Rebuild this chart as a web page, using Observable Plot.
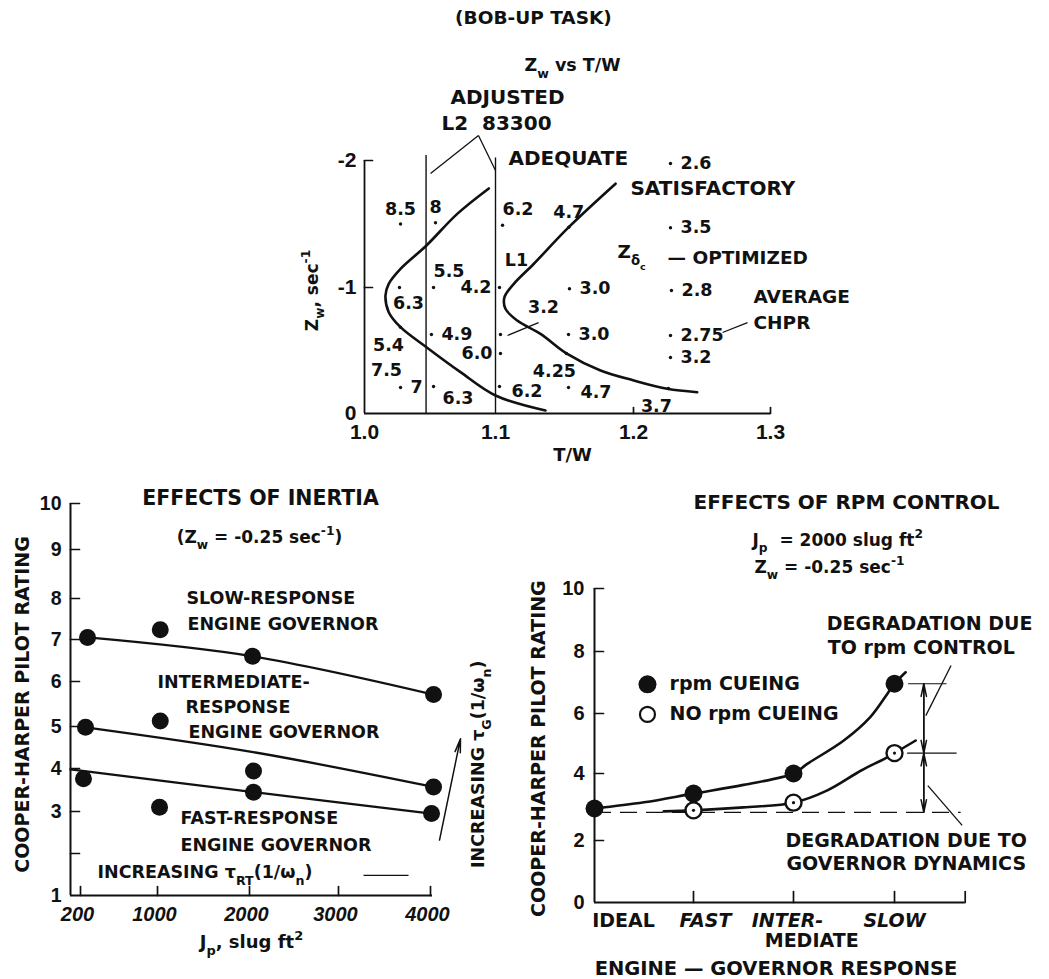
<!DOCTYPE html>
<html><head><meta charset="utf-8">
<script src="https://cdn.jsdelivr.net/npm/d3@7"></script>
<script src="https://cdn.jsdelivr.net/npm/@observablehq/plot@0.6"></script>
<style>
body{margin:0;background:#fff;}
#root{position:relative;width:1049px;height:979px;overflow:hidden;background:#fff;}
</style></head><body><div id="root"></div>
<script>
// ================= DATA =================
// --- Top panel: Zw vs T/W (bob-up task) ---
const twTicks = [1.0, 1.1, 1.2, 1.3];
const twTickLabels = ["1.0", "1.1", "1.2", "1.3"];
const zwTicks = [0, -1, -2];
const zwTickLabels = ["0", "-1", "-2"];
const twAxis = [1.0, 1.3];
const zwAxis = [0, -2];
const adequateBoundary = [
  {tw:1.0949,zw:-1.78},{tw:1.0708,zw:-1.58},{tw:1.0473,zw:-1.331},{tw:1.0275,zw:-1.147},
  {tw:1.0185,zw:-1.029},{tw:1.016,zw:-0.937},{tw:1.0185,zw:-0.804},{tw:1.0275,zw:-0.685},
  {tw:1.0473,zw:-0.526},{tw:1.0733,zw:-0.328},{tw:1.1,zw:-0.143},{tw:1.1362,zw:-0.024}
];
const satisfactoryBoundary = [
  {tw:1.187,zw:-1.817},{tw:1.1531,zw:-1.475},{tw:1.1278,zw:-1.187},{tw:1.1133,zw:-1.029},
  {tw:1.1065,zw:-0.923},{tw:1.1072,zw:-0.831},{tw:1.1157,zw:-0.738},{tw:1.1326,zw:-0.632},
  {tw:1.152,zw:-0.473},{tw:1.1761,zw:-0.341},{tw:1.2002,zw:-0.262},{tw:1.2246,zw:-0.196},
  {tw:1.2465,zw:-0.169}
];
const designLines = [{tw:1.047, top:-2.04}, {tw:1.1, top:-2.02}];
const ratings = [
  {tw:1.0275, zw:-1.50, hqr:"8.5", side:"n"},
  {tw:1.0542, zw:-1.51, hqr:"8", side:"n"},
  {tw:1.1051, zw:-1.49, hqr:"6.2", side:"ne"},
  {tw:1.1531, zw:-1.475, hqr:"4.7", side:"n"},
  {tw:1.227, zw:-1.976, hqr:"2.6", side:"e"},
  {tw:1.227, zw:-1.47, hqr:"3.5", side:"e"},
  {tw:1.0527, zw:-1.0, hqr:"5.5", side:"ne"},
  {tw:1.0267, zw:-1.0, hqr:"6.3", side:"s"},
  {tw:1.1029, zw:-1.0, hqr:"4.2", side:"w"},
  {tw:1.1536, zw:-0.99, hqr:"3.0", side:"e"},
  {tw:1.2277, zw:-0.976, hqr:"2.8", side:"e"},
  {tw:1.1036, zw:-0.627, hqr:"3.2", side:"lead"},
  {tw:1.0511, zw:-0.627, hqr:"4.9", side:"e"},
  {tw:1.1529, zw:-0.627, hqr:"3.0", side:"e"},
  {tw:1.227, zw:-0.619, hqr:"2.75", side:"e"},
  {tw:1.0275, zw:-0.685, hqr:"5.4", side:"sw"},
  {tw:1.1036, zw:-0.476, hqr:"6.0", side:"w"},
  {tw:1.227, zw:-0.444, hqr:"3.2", side:"e"},
  {tw:1.1514, zw:-0.476, hqr:"4.25", side:"sw"},
  {tw:1.0275, zw:-0.206, hqr:"7", side:"e"},
  {tw:1.0527, zw:-0.214, hqr:"6.3", side:"sse"},
  {tw:1.1029, zw:-0.214, hqr:"6.2", side:"se"},
  {tw:1.1529, zw:-0.206, hqr:"4.7", side:"se"},
  {tw:1.2255, zw:-0.198, hqr:"3.7", side:"sw"}
];

// --- Bottom-left: effects of inertia ---
const jpTicks = [200, 1000, 2000, 3000, 4000];
const chprTicksLeft = [2, 3, 4, 5, 6, 7, 8, 9, 10];
const chprLabelsLeft = [1, 3, 4, 5, 6, 7, 8, 9, 10];
const jpAxis = [96, 4022];
const chprAxisLeft = [1, 10];
const slowGovernor = [{jp:273,chpr:7.05},{jp:1030,chpr:7.24},{jp:2034,chpr:6.6},{jp:4033,chpr:5.71}];
const intermediateGovernor = [{jp:252,chpr:4.98},{jp:1030,chpr:5.12},{jp:2045,chpr:3.94},{jp:4033,chpr:3.57}];
const fastGovernor = [{jp:231,chpr:3.76},{jp:1022,chpr:3.1},{jp:2045,chpr:3.45},{jp:4011,chpr:2.95}];
const slowFair = [{jp:273,chpr:7.05},{jp:2034,chpr:6.6},{jp:4033,chpr:5.71}];
const intermediateFair = [{jp:252,chpr:4.98},{jp:2040,chpr:4.39},{jp:4033,chpr:3.57}];
const fastFair = [{jp:96,chpr:3.98},{jp:2045,chpr:3.45},{jp:4011,chpr:2.95}];

// --- Bottom-right: effects of rpm control ---
const respTicks = [1, 2, 3, 3.7];
const chprTicksRight = [2, 4, 6, 8, 10];
const chprLabelsRight = [0, 2, 4, 6, 8, 10];
const respAxis = [0, 3.7];
const chprAxisRight = [0, 10];
const rpmCueing = [{resp:0,chpr:2.955},{resp:1,chpr:3.4},{resp:2,chpr:4.0},{resp:3,chpr:6.96}];
const noRpmCueing = [{resp:1,chpr:2.9},{resp:2,chpr:3.13},{resp:3,chpr:4.68}];
const rpmCueingCurve = [{resp:0,chpr:2.955},{resp:0.5,chpr:3.14},{resp:1,chpr:3.4},{resp:1.5,chpr:3.66},{resp:2,chpr:4.0},
  {resp:2.136,chpr:4.32},{resp:2.498,chpr:5.1},{resp:2.76,chpr:5.88},{resp:2.93,chpr:6.64},{resp:3,chpr:6.96},{resp:3.11,chpr:7.33}];
const noRpmCueingCurve = [{resp:0.7,chpr:2.87},{resp:1,chpr:2.9},{resp:1.5,chpr:2.99},{resp:2,chpr:3.13},
  {resp:2.33,chpr:3.49},{resp:2.67,chpr:4.1},{resp:2.9,chpr:4.49},{resp:3,chpr:4.68},{resp:3.21,chpr:5.1}];
const idealLevel = [{chpr:2.84, from:0, to:3.66}];
const slowLevels = [{chpr:6.96, from:3.14, to:3.52}, {chpr:4.68, from:3.13, to:3.62}];
const degradations = [{resp:3.29, hi:6.96, lo:4.68}, {resp:3.29, hi:4.68, lo:2.84}];

// ================= ANNOTATIONS (data coordinates) =================
const topTitle = [{text:"(BOB-UP TASK)", tw:1.1275, zw:-3.118}];
const topSubtitle = [{text:"Z_{w} vs T/W", tw:1.1558, zw:-2.748}];
const topBigMid = [{text:"ADJUSTED", tw:1.1087, zw:-2.496}, {text:"L2  83300", tw:1.1007, zw:-2.291}];
const topBigStart = [{text:"ADEQUATE", tw:1.1094, zw:-2.016}, {text:"SATISFACTORY", tw:1.1978, zw:-1.78}];
const topNotes = [{text:"Z_{δ_{c}}", tw:1.1884, zw:-1.276}, {text:"— OPTIMIZED", tw:1.2248, zw:-1.228},
  {text:"AVERAGE", tw:1.2876, zw:-0.921}, {text:"CHPR", tw:1.2876, zw:-0.714}];
const topSmall = [{text:"L1", tw:1.1152, zw:-1.213}, {text:"7.5", tw:1.0168, zw:-0.341}];
const topLeaders = [
  {tw1:1.087, zw1:-2.197, tw2:1.0504, zw2:-1.898}, {tw1:1.087, zw1:-2.197, tw2:1.1, zw2:-1.921},
  {tw1:1.265, zw1:-0.643, tw2:1.2832, zw2:-0.722}, {tw1:1.1087, zw1:-0.619, tw2:1.1312, zw2:-0.722}
];
const topXTitle = [{text:"T/W", tw:1.1558, zw:0.333}];
const topYTitle = [{text:"Z_{w}, sec^{-1}", tw:0.9603, zw:-0.976}];

const leftTitle = [{text:"EFFECTS OF INERTIA", jp:2124, chpr:10.11}];
const leftSubtitle = [{text:"(Z_{w} = -0.25 sec^{-1})", jp:2112, chpr:9.26}];
const leftNotes = [
  {text:"SLOW-RESPONSE", jp:1315, chpr:8.0}, {text:"ENGINE GOVERNOR", jp:1326, chpr:7.37},
  {text:"INTERMEDIATE-", jp:1000, chpr:5.98}, {text:"RESPONSE", jp:1304, chpr:5.42},
  {text:"ENGINE GOVERNOR", jp:1337, chpr:4.86}, {text:"FAST-RESPONSE", jp:1250, chpr:2.83},
  {text:"ENGINE GOVERNOR", jp:1250, chpr:2.19}, {text:"INCREASING τ_{RT}(1/ω_{n})", jp:377, chpr:1.55}
];
const leftLeader = [{jp1:3272, jp2:3761, chpr:1.48}];
const leftArrow = [{jp1:4098, c1:2.32, jp2:4326, c2:4.71}];
const leftRotated = [{text:"INCREASING τ_{G}(1/ω_{n})", jp:4522, chpr:4.1}];
const leftYTitle = [{text:"COOPER-HARPER PILOT RATING", jp:-403, chpr:5.49}];
const leftXTitle = [{text:"J_{p}, slug ft^{2}", jp:2022, chpr:-0.11}];

const rightTitle = [{text:"EFFECTS OF RPM CONTROL", resp:2.525, chpr:12.74}];
const rightConditions = [{text:"J_{p}  = 2000 slug ft^{2}", resp:1.59, chpr:11.53}, {text:"Z_{w} = -0.25 sec^{-1}", resp:1.61, chpr:10.67}];
const rightNotes = [
  {text:"DEGRADATION DUE", resp:2.33, chpr:8.89}, {text:"TO rpm CONTROL", resp:2.34, chpr:8.1},
  {text:"DEGRADATION DUE TO", resp:1.92, chpr:2.0}, {text:"GOVERNOR DYNAMICS", resp:1.93, chpr:1.26},
  {text:"rpm CUEING", resp:0.758, chpr:6.94}, {text:"NO rpm CUEING", resp:0.758, chpr:5.97}
];
const legendFilled = [{resp:0.535, chpr:6.94}];
const legendOpen = [{resp:0.535, chpr:5.97}];
const rightLeaders = [{r1:3.56, c1:7.55, r2:3.31, c2:5.93}, {r1:3.33, c1:3.64, r2:3.67, c2:2.45}];
const respUpright = [{text:"IDEAL", resp:0.293, chpr:-0.58}, {text:"MEDIATE", resp:2.18, chpr:-1.23}];
const respItalic = [{text:"FAST", resp:1.12, chpr:-0.58}, {text:"INTER-", resp:1.94, chpr:-0.58}, {text:"SLOW", resp:3.0, chpr:-0.58}];
const rightXTitle = [{text:"ENGINE — GOVERNOR RESPONSE", resp:1.825, chpr:-2.13}];
const rightYTitle = [{text:"COOPER-HARPER PILOT RATING", resp:-0.566, chpr:4.83}];

// ================= HELPERS =================
const ink = "#111";
const TXT = "'DejaVu Sans', 'Liberation Sans', sans-serif";
const NUM = "'Liberation Sans', Arial, sans-serif";
const tickShape = {draw(context, l) { context.moveTo(0, 0); context.lineTo(0, -l); }};
const ticks = (data, o) => Plot.vector(data, {anchor: "start", shape: tickShape, stroke: ink, strokeWidth: 1.7, ...o});
const words = (data, o) => Plot.text(data, {text: "text", fill: ink, fontFamily: TXT, fontWeight: "bold", ...o});
const nums = (data, o) => Plot.text(data, {fill: ink, fontFamily: NUM, fontWeight: "bold", ...o});
const baseStyle = {background: "transparent", overflow: "visible", color: ink};

function place(svg, left, top) {
  svg.style.position = "absolute";
  svg.style.left = left + "px";
  svg.style.top = top + "px";
  document.getElementById("root").appendChild(svg);
}

// converts _{...} and ^{...} into sub/superscript tspans (real text)
function richText(svg) {
  const NS = "http://www.w3.org/2000/svg";
  svg.querySelectorAll("text").forEach(t => {
    const s = t.textContent;
    if (!/[_^]\{/.test(s)) return;
    const base = parseFloat(getComputedStyle(t).fontSize) || 16;
    t.textContent = "";
    const stack = [{shift: 0, size: base}];
    let cur = 0, buf = "";
    const flush = () => {
      if (!buf) return;
      const st = stack[stack.length - 1];
      const ts = document.createElementNS(NS, "tspan");
      ts.setAttribute("font-size", st.size.toFixed(2));
      ts.setAttribute("dy", (st.shift - cur).toFixed(2));
      cur = st.shift;
      ts.textContent = buf;
      t.appendChild(ts);
      buf = "";
    };
    for (let i = 0; i < s.length; i++) {
      const c = s[i];
      if ((c === "_" || c === "^") && s[i + 1] === "{") {
        flush();
        const top = stack[stack.length - 1];
        stack.push(c === "_" ? {shift: top.shift + top.size * 0.38, size: top.size * 0.72}
                             : {shift: top.shift - top.size * 0.45, size: top.size * 0.72});
        i++;
      } else if (c === "}" && stack.length > 1) { flush(); stack.pop(); }
      else buf += c;
    }
    flush();
  });
}

// ================= TOP PANEL =================
const sideOffsets = {n:[0,-15,"middle"], ne:[0,-16,"start"], e:[10,0,"start"], w:[-8,0,"end"], s:[9,16,"middle"],
  sw:[-12,18,"middle"], se:[12,5,"start"], sse:[9,12,"start"], lead:[43,-27,"middle"]};

const topPlot = Plot.plot({
  width: 1049, height: 470, margin: 0,
  x: {type: "linear", domain: twTicks, range: [364, 495, 633, 770], axis: null},
  y: {type: "linear", domain: [-2, -1, 0], range: [160, 287, 413], axis: null},
  style: baseStyle,
  marks: [
    Plot.ruleX(designLines, {x: "tw", y1: () => 0, y2: "top", stroke: ink, strokeWidth: 1.4}),
    Plot.ruleX([twAxis[0]], {y1: zwAxis[0], y2: zwAxis[1], stroke: ink, strokeWidth: 1.8}),
    Plot.ruleY([zwAxis[0]], {x1: twAxis[0], x2: twAxis[1], stroke: ink, strokeWidth: 1.8}),
    ticks(zwTicks.slice(1), {x: () => twAxis[0], y: d => d, length: 8, rotate: 90}),
    ticks(twTicks.slice(2), {x: d => d, y: () => zwAxis[0], length: 6, rotate: 0}),
    nums(zwTicks, {x: () => twAxis[0], y: d => d, text: (d, i) => zwTickLabels[i], dx: -8, textAnchor: "end", fontSize: 21}),
    nums(twTicks, {x: d => d, y: () => zwAxis[0], text: (d, i) => twTickLabels[i], dy: 19, fontSize: 21}),
    Plot.line(adequateBoundary, {x: "tw", y: "zw", curve: "catmull-rom", stroke: ink, strokeWidth: 2.6}),
    Plot.line(satisfactoryBoundary, {x: "tw", y: "zw", curve: "catmull-rom", stroke: ink, strokeWidth: 2.6}),
    Plot.link(topLeaders, {x1: "tw1", y1: "zw1", x2: "tw2", y2: "zw2", stroke: ink, strokeWidth: 1.3}),
    Plot.dot(ratings, {x: "tw", y: "zw", r: 1.7, fill: ink}),
    ...Object.entries(sideOffsets).map(([k, [dx, dy, a]]) =>
      Plot.text(ratings.filter(d => d.side === k), {x: "tw", y: "zw", text: "hqr", dx, dy, textAnchor: a,
        fill: ink, fontFamily: TXT, fontWeight: "bold", fontSize: 17.5})),
    words(topTitle, {x: "tw", y: "zw", fontSize: 18.5}),
    words(topSubtitle, {x: "tw", y: "zw", fontSize: 17.5}),
    words(topBigMid, {x: "tw", y: "zw", fontSize: 20}),
    words(topBigStart, {x: "tw", y: "zw", fontSize: 20, textAnchor: "start"}),
    words(topNotes, {x: "tw", y: "zw", fontSize: 18.5, textAnchor: "start"}),
    words(topSmall, {x: "tw", y: "zw", fontSize: 17.5}),
    words(topXTitle, {x: "tw", y: "zw", fontSize: 18}),
    words(topYTitle, {x: "tw", y: "zw", fontSize: 17, rotate: -90})
  ]
});

// ================= BOTTOM-LEFT PANEL =================
const leftPlot = Plot.plot({
  width: 500, height: 519, margin: 0,
  x: {type: "linear", domain: jpTicks, range: [80, 157, 249, 338, 430], axis: null},
  y: {type: "linear", domain: [1,2,3,4,5,6,7,8,9,10], range: [435,393,351,308,266,221,179,138,89,43], axis: null},
  style: baseStyle,
  marks: [
    Plot.ruleX([jpAxis[0]], {y1: chprAxisLeft[0], y2: chprAxisLeft[1], stroke: ink, strokeWidth: 2}),
    Plot.ruleY([chprAxisLeft[0]], {x1: jpAxis[0], x2: jpAxis[1], stroke: ink, strokeWidth: 2}),
    ticks(chprTicksLeft, {x: () => jpAxis[0], y: d => d, length: 9, rotate: 90}),
    ticks(jpTicks, {x: d => d, y: () => chprAxisLeft[0], length: 9, rotate: 0}),
    nums(chprLabelsLeft, {x: () => jpAxis[0], y: d => d, text: d => String(d), dx: -9, textAnchor: "end", fontSize: 19.5}),
    nums(jpTicks, {x: d => d, y: () => chprAxisLeft[0], text: d => String(d), dx: -3, dy: 19, fontSize: 20, fontStyle: "italic"}),
    Plot.line(slowFair, {x: "jp", y: "chpr", curve: "catmull-rom", stroke: ink, strokeWidth: 2.3}),
    Plot.line(intermediateFair, {x: "jp", y: "chpr", curve: "catmull-rom", stroke: ink, strokeWidth: 2.3}),
    Plot.line(fastFair, {x: "jp", y: "chpr", curve: "catmull-rom", stroke: ink, strokeWidth: 2.3}),
    Plot.dot(slowGovernor, {x: "jp", y: "chpr", r: 8.5, fill: ink}),
    Plot.dot(intermediateGovernor, {x: "jp", y: "chpr", r: 8.5, fill: ink}),
    Plot.dot(fastGovernor, {x: "jp", y: "chpr", r: 8.5, fill: ink}),
    Plot.link(leftLeader, {x1: "jp1", x2: "jp2", y1: "chpr", y2: "chpr", stroke: ink, strokeWidth: 1.3}),
    Plot.arrow(leftArrow, {x1: "jp1", y1: "c1", x2: "jp2", y2: "c2", stroke: ink, strokeWidth: 1.5, headLength: 14, headAngle: 22}),
    words(leftTitle, {x: "jp", y: "chpr", fontSize: 20.5}),
    words(leftSubtitle, {x: "jp", y: "chpr", fontSize: 17}),
    words(leftNotes, {x: "jp", y: "chpr", fontSize: 17.5, textAnchor: "start"}),
    words(leftRotated, {x: "jp", y: "chpr", fontSize: 17.5, rotate: -90}),
    words(leftYTitle, {x: "jp", y: "chpr", fontSize: 19, rotate: -90}),
    words(leftXTitle, {x: "jp", y: "chpr", fontSize: 18})
  ]
});

// ================= BOTTOM-RIGHT PANEL =================
const rightPlot = Plot.plot({
  width: 549, height: 519, margin: 0,
  x: {type: "linear", domain: [0, 1, 2, 3], range: [94, 193, 293, 394], axis: null},
  y: {type: "linear", domain: [0, 2, 4, 6, 8, 10], range: [442, 380, 313, 253, 191, 128], axis: null},
  style: baseStyle,
  marks: [
    Plot.ruleY(idealLevel, {y: "chpr", x1: "from", x2: "to", stroke: ink, strokeWidth: 1.4, strokeDasharray: "17,9"}),
    Plot.ruleY(slowLevels, {y: "chpr", x1: "from", x2: "to", stroke: ink, strokeWidth: 1.2}),
    Plot.ruleX([respAxis[0]], {y1: chprAxisRight[0], y2: chprAxisRight[1], stroke: ink, strokeWidth: 2}),
    Plot.ruleY([chprAxisRight[0]], {x1: respAxis[0], x2: respAxis[1], stroke: ink, strokeWidth: 2}),
    ticks(chprTicksRight, {x: () => respAxis[0], y: d => d, length: 9, rotate: 90}),
    ticks(respTicks, {x: d => d, y: () => chprAxisRight[0], length: 11, rotate: 0}),
    nums(chprLabelsRight, {x: () => respAxis[0], y: d => d, text: d => String(d), dx: -10, textAnchor: "end", fontSize: 20}),
    Plot.arrow(degradations, {x1: "resp", x2: "resp", y1: "hi", y2: "lo", stroke: ink, strokeWidth: 1.5, headLength: 13, headAngle: 24}),
    Plot.arrow(degradations, {x1: "resp", x2: "resp", y1: "lo", y2: "hi", stroke: ink, strokeWidth: 1.5, headLength: 13, headAngle: 24}),
    Plot.link(rightLeaders, {x1: "r1", y1: "c1", x2: "r2", y2: "c2", stroke: ink, strokeWidth: 1.3}),
    Plot.line(rpmCueingCurve, {x: "resp", y: "chpr", curve: "catmull-rom", stroke: ink, strokeWidth: 2.6}),
    Plot.line(noRpmCueingCurve, {x: "resp", y: "chpr", curve: "catmull-rom", stroke: ink, strokeWidth: 2.6}),
    Plot.dot(rpmCueing, {x: "resp", y: "chpr", r: 9, fill: ink}),
    Plot.dot(noRpmCueing, {x: "resp", y: "chpr", r: 8, fill: "white", stroke: ink, strokeWidth: 2.4}),
    Plot.dot(noRpmCueing, {x: "resp", y: "chpr", r: 1.6, fill: ink}),
    Plot.dot(legendFilled, {x: "resp", y: "chpr", r: 9, fill: ink}),
    Plot.dot(legendOpen, {x: "resp", y: "chpr", r: 7.5, fill: "white", stroke: ink, strokeWidth: 2.2}),
    words(rightTitle, {x: "resp", y: "chpr", fontSize: 20}),
    words(rightConditions, {x: "resp", y: "chpr", fontSize: 17, textAnchor: "start"}),
    words(rightNotes, {x: "resp", y: "chpr", fontSize: 19, textAnchor: "start"}),
    words(respUpright, {x: "resp", y: "chpr", fontSize: 19}),
    words(respItalic, {x: "resp", y: "chpr", fontSize: 19, fontStyle: "italic"}),
    words(rightXTitle, {x: "resp", y: "chpr", fontSize: 19.5}),
    words(rightYTitle, {x: "resp", y: "chpr", fontSize: 19, rotate: -90})
  ]
});

place(topPlot, 0, 0);
place(leftPlot, 0, 460);
place(rightPlot, 500, 460);
[topPlot, leftPlot, rightPlot].forEach(richText);
</script></body></html>
